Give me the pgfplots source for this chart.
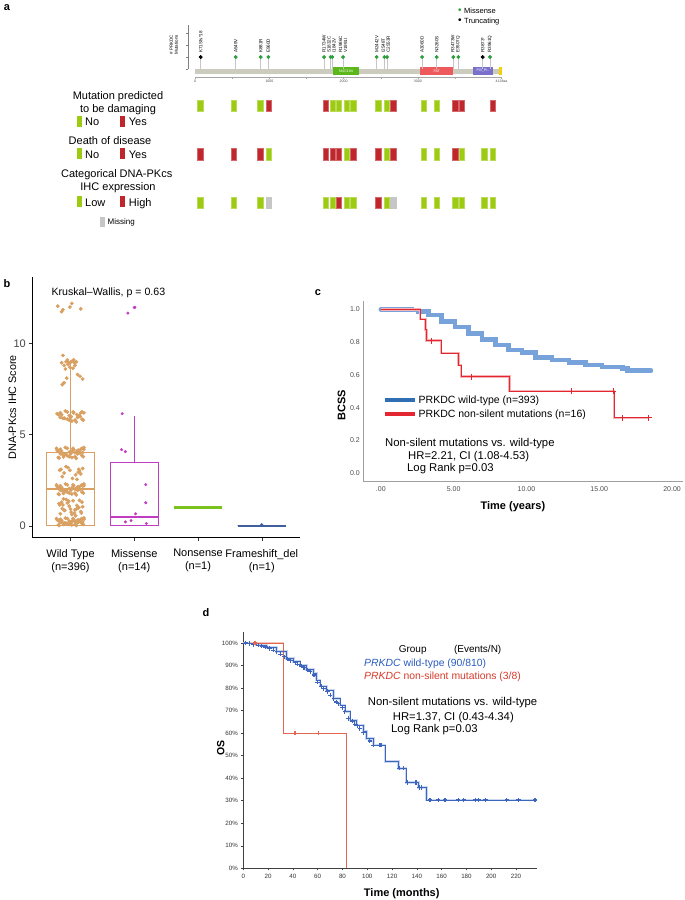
\documentclass[border=0pt]{standalone}
\usepackage{fontspec}
\setmainfont{Liberation Sans}
\usepackage{pgfplots}
\pgfplotsset{compat=1.18}
\usepgfplotslibrary{statistics}
\definecolor{agreen}{HTML}{9DCB12}
\definecolor{ared}{HTML}{C0272D}
\definecolor{agray}{HTML}{C6C6C6}
\definecolor{bb}{HTML}{CBCBBE}
\definecolor{dotg}{HTML}{2E9E3E}
\definecolor{nucg}{HTML}{5CB81A}
\definecolor{fatr}{HTML}{EE5A5C}
\definecolor{pip}{HTML}{7970CC}
\definecolor{fatc}{HTML}{F2D200}
\definecolor{wtc}{HTML}{D9A062}
\definecolor{msc}{HTML}{C13CC0}
\definecolor{nsc}{HTML}{7CC21E}
\definecolor{fsc}{HTML}{3F5F9E}
\definecolor{cblue}{HTML}{77A2DA}
\definecolor{cbluekey}{HTML}{2F6DB5}
\definecolor{cred}{HTML}{E3262F}
\definecolor{dblue}{HTML}{3E66BF}
\definecolor{dband}{HTML}{C9D8EF}
\definecolor{dred}{HTML}{E5664F}
\definecolor{dtxtblue}{HTML}{2A5CBF}
\definecolor{dtxtred}{HTML}{D63A2C}
\pgfplotsset{every axis/.append style={/pgf/number format/assume math mode=true}}
\begin{document}
\begin{tikzpicture}[x=1pt,y=1pt, lbl/.style={rotate=90, anchor=west, font=\fontsize{4.6}{5}\selectfont, inner sep=0.4pt, align=left}]
\path[use as bounding box] (0,0) rectangle (685,-900);

% panel labels
\node[anchor=center, font=\bfseries\fontsize{11}{13}\selectfont] at (7,-8) {a};
\node[anchor=center, font=\bfseries\fontsize{11}{13}\selectfont] at (7,-284) {b};
\node[anchor=center, font=\bfseries\fontsize{11}{13}\selectfont] at (318,-293) {c};
\node[anchor=center, font=\bfseries\fontsize{11}{13}\selectfont] at (206,-613) {d};

% ---------------- panel a: lollipop ----------------
\begin{axis}[at={(187.8pt,-69pt)}, anchor=south west, scale only axis,
  width=313.7pt, height=44pt, xmin=-100, xmax=4128, ymin=0, ymax=3.67,
  axis x line=none, axis y line*=left, ytick={0,1,2,3}, yticklabels={},
  tick align=outside, major tick length=1.5pt,
  y axis line style={gray, line width=0.3pt}, ytick style={gray, line width=0.3pt},
  ylabel={\# PRKDC\\Mutations}, ylabel style={font=\fontsize{4.5}{5}\selectfont, align=center, at={(axis description cs:-0.02,0.55)}, anchor=south},
  clip=false]
\addplot[fill=bb, draw=none] coordinates {(0,0) (4128,0) (4128,-0.42) (0,-0.42)} --cycle;
\addplot[fill=nucg, draw=none] coordinates {(1853,0.2) (2212,0.2) (2212,-0.52) (1853,-0.52)} --cycle;
\addplot[fill=fatr, draw=none] coordinates {(3030,0.2) (3479,0.2) (3479,-0.52) (3030,-0.52)} --cycle;
\addplot[fill=pip, draw=none] coordinates {(3748,0.2) (4009,0.2) (4009,-0.52) (3748,-0.52)} --cycle;
\addplot[fill=fatc, draw=none] coordinates {(4098,0.2) (4128,0.2) (4128,-0.52) (4098,-0.52)} --cycle;
\node[white, font=\fontsize{3.6}{4}\selectfont] at (axis cs:2032,-0.16) {NUC194};
\node[white, font=\fontsize{3.6}{4}\selectfont] at (axis cs:3255,-0.16) {FAT};
\node[white, font=\fontsize{3.6}{4}\selectfont] at (axis cs:3878,-0.16) {PI3\_PI..};
\addplot[ycomb, draw=gray!45, line width=0.6pt, mark=*, mark size=1.6pt, mark options={draw=dotg, fill=dotg}]
 coordinates {(546,1) (883,1) (985,1) (1736,1) (1826,1) (1848,1) (1992,1) (2446,1) (2549,1) (2585,1) (3057,1) (3255,1) (3478,1) (3546,1) (3973,1)};
\addplot[ycomb, draw=gray!45, line width=0.6pt, mark=*, mark size=1.6pt, mark options={draw=black, fill=black}]
 coordinates {(74,1) (3875,1)};
\node[lbl] at (axis cs:74,1.3) {K71Sfs*18};
\node[lbl] at (axis cs:546,1.3) {A549V};
\node[lbl] at (axis cs:883,1.3) {K881R};
\node[lbl] at (axis cs:985,1.3) {E960D};
\node[lbl] at (axis cs:1736,1.3) {R1734W};
\node[lbl] at (axis cs:1837,1.3) {S1832C\\I1842V};
\node[lbl] at (axis cs:1992,1.3) {R1986C\\V1991I};
\node[lbl] at (axis cs:2446,1.3) {M2442V};
\node[lbl] at (axis cs:2567,1.3) {I2548T\\C2553R};
\node[lbl] at (axis cs:3057,1.3) {A3060D};
\node[lbl] at (axis cs:3255,1.3) {N3260S};
\node[lbl] at (axis cs:3512,1.3) {R3473W\\E3507Q};
\node[lbl] at (axis cs:3875,1.3) {R3873*};
\node[lbl] at (axis cs:3973,1.3) {R3961Q};
\end{axis}

% protein scale
\begin{axis}[at={(195.2pt,-77pt)}, anchor=south west, scale only axis,
  width=306.3pt, height=1pt, xmin=0, xmax=4128, ymin=0, ymax=1,
  axis y line=none, axis x line*=bottom,
  xtick={0,1000,2000,3000,4128}, xticklabels={0,1000,2000,3000,4128aa},
  minor xtick={500,1500,2500,3500}, tick align=outside,
  major tick length=2pt, minor tick length=1.5pt,
  x axis line style={gray!70, line width=0.3pt}, xtick style={gray!70, line width=0.3pt},
  minor tick style={gray!70, line width=0.3pt},
  xticklabel style={font=\fontsize{3.5}{4}\selectfont, text=gray!60!black, inner sep=1pt}]
\addplot[draw=none] coordinates {(0,0)};
\end{axis}

\node[anchor=base west, font=\fontsize{7.5}{9}\selectfont, inner sep=0] at (458,-13) {\textcolor{dotg}{\fontsize{10}{9}\selectfont •}\hspace{2.5pt}Missense};
\node[anchor=base west, font=\fontsize{7.5}{9}\selectfont, inner sep=0] at (458,-23) {\textcolor{black}{\fontsize{10}{9}\selectfont •}\hspace{2.5pt}Truncating};

% ---------------- panel a: annotation grid ----------------
\begin{axis}[at={(195.2pt,-215pt)}, anchor=south west, scale only axis,
  width=306.3pt, height=120pt, xmin=0, xmax=4128, ymin=95, ymax=215, y dir=reverse,
  axis lines=none, clip=false]
\addplot[scatter, only marks, scatter src=explicit symbolic, mark size=5.8pt,
  mark options={xscale=0.46},
  scatter/classes={G={mark=square*, fill=agreen, draw=agreen!70!white},
                   R={mark=square*, fill=ared, draw=ared!70!white},
                   M={mark=square*, fill=agray, draw=agray}}]
 table[meta=c] {
x y c
69 105.7 G
523 105.7 G
877 105.7 G
991 105.7 R
1759 105.7 R
1853 105.7 G
1934 105.7 G
2042 105.7 G
2131 105.7 G
2464 105.7 G
2585 105.7 G
2670 105.7 R
3080 105.7 G
3255 105.7 G
3505 105.7 R
3592 105.7 R
4013 105.7 R
69 154.3 R
523 154.3 R
877 154.3 R
991 154.3 G
1759 154.3 R
1853 154.3 R
1934 154.3 R
2042 154.3 G
2131 154.3 R
2464 154.3 R
2585 154.3 G
2670 154.3 R
3080 154.3 G
3255 154.3 G
3505 154.3 R
3592 154.3 G
3896 154.3 G
4013 154.3 G
69 202.7 G
523 202.7 G
877 202.7 G
991 202.7 M
1759 202.7 G
1853 202.7 G
1934 202.7 R
2042 202.7 G
2131 202.7 G
2464 202.7 R
2585 202.7 G
2670 202.7 M
3080 202.7 G
3255 202.7 G
3505 202.7 G
3592 202.7 G
3896 202.7 G
4013 202.7 G
};
\end{axis}

% grid legend texts
\node[anchor=base, font=\fontsize{11}{13}\selectfont, inner sep=0] at (118,-99.5) {Mutation predicted};
\node[anchor=base, font=\fontsize{11}{13}\selectfont, inner sep=0] at (118,-112.8) {to be damaging};
\node[anchor=base west, font=\fontsize{11}{13}\selectfont, inner sep=0] at (76.5,-125.7) {\textcolor{agreen}{\rule[-1pt]{5pt}{11pt}}\hspace{3.5pt}No};
\node[anchor=base west, font=\fontsize{11}{13}\selectfont, inner sep=0] at (119.5,-125.7) {\textcolor{ared}{\rule[-1pt]{5pt}{11pt}}\hspace{4.2pt}Yes};
\node[anchor=base, font=\fontsize{11}{13}\selectfont, inner sep=0] at (110,-144.5) {Death of disease};
\node[anchor=base west, font=\fontsize{11}{13}\selectfont, inner sep=0] at (76.5,-158) {\textcolor{agreen}{\rule[-1pt]{5pt}{11pt}}\hspace{3.5pt}No};
\node[anchor=base west, font=\fontsize{11}{13}\selectfont, inner sep=0] at (119.5,-158) {\textcolor{ared}{\rule[-1pt]{5pt}{11pt}}\hspace{4.2pt}Yes};
\node[anchor=base, font=\fontsize{11}{13}\selectfont, inner sep=0] at (116.7,-177.5) {Categorical DNA-PKcs};
\node[anchor=base, font=\fontsize{11}{13}\selectfont, inner sep=0] at (118,-190.8) {IHC expression};
\node[anchor=base west, font=\fontsize{11}{13}\selectfont, inner sep=0] at (76.5,-206) {\textcolor{agreen}{\rule[-1pt]{5pt}{11pt}}\hspace{3.5pt}Low};
\node[anchor=base west, font=\fontsize{11}{13}\selectfont, inner sep=0] at (119.5,-206) {\textcolor{ared}{\rule[-1pt]{5pt}{11pt}}\hspace{4.2pt}High};
\node[anchor=base west, font=\fontsize{8}{10}\selectfont, inner sep=0] at (99.5,-224.5) {\textcolor{agray}{\rule[-2pt]{5pt}{10pt}}\hspace{3pt}Missing};

% ---------------- panel b ----------------
\begin{axis}[at={(32.3pt,-537.7pt)}, anchor=south west, scale only axis,
  width=267.7pt, height=260.7pt, xmin=0.4, xmax=4.6, ymin=-0.65, ymax=13.65,
  axis x line*=bottom, axis y line*=left, axis line style={black, line width=0.7pt},
  xtick={1,2,3,4}, xticklabels={{Wild Type\\(n=396)},{Missense\\(n=14)},{Nonsense\\(n=1)},{Frameshift\_del\\(n=1)}},
  ytick={0,5,10}, tick align=outside, major tick length=3pt,
  tick style={gray!40!black, line width=0.5pt},
  xticklabel style={align=center, font=\fontsize{11}{13}\selectfont, text=black, yshift=-5pt},
  yticklabel style={font=\fontsize{11}{13}\selectfont, text=gray!55!black},
  ylabel={DNA-PKcs IHC Score}, ylabel style={font=\fontsize{10.8}{12}\selectfont, at={(axis description cs:-0.074,0.5)}, anchor=center},
  boxplot/draw direction=y,
  clip=false]
\addplot[draw=wtc, line width=0.9pt, boxplot prepared={median=2, lower quartile=0, upper quartile=4, lower whisker=0, upper whisker=9, draw position=1, box extend=0.76, whisker extend=0}, boxplot/every median/.style={line width=2.2pt}] coordinates {};
\addplot[only marks, mark=*, mark size=1.7pt, color=wtc] coordinates {
(0.81,0.29)(1.07,0.08)(0.95,0.40)(1.15,0.22)(0.88,0.15)(1.21,0.36)(1.02,0.05)(0.79,0.33)(1.11,0.18)(0.92,0.43)
(1.18,0.12)(0.98,0.26)(1.09,0.02)(0.84,0.36)(1.13,0.22)(0.90,0.15)(1.04,0.40)(1.20,0.08)(0.86,0.29)(1.00,0.19)
(0.84,0.19)(1.10,0.29)(0.98,0.08)(1.18,0.40)(0.91,0.15)(1.19,0.22)(1.05,0.36)(0.82,0.02)(1.14,0.26)(0.95,0.12)
(1.21,0.43)(1.01,0.18)(1.12,0.33)(0.81,0.05)(1.16,0.36)(0.93,0.15)(1.07,0.22)(0.78,0.40)(0.89,0.08)(1.03,0.29)
(0.83,1.15)(1.06,0.70)(0.96,1.38)(1.13,1.00)(0.90,0.85)(1.18,1.30)(1.02,0.62)(0.82,1.22)(1.09,0.92)(0.93,1.45)
(1.16,0.78)(0.98,1.08)(1.08,0.55)(0.86,1.30)(1.12,1.00)(0.91,0.85)(1.04,1.38)(1.17,0.70)(0.88,1.15)(1.00,0.92)
(0.95,1.25)(1.10,1.12)(0.87,0.95)(1.14,1.40)(1.01,0.75)(0.84,0.66)(1.19,1.05)(0.97,1.33)(1.07,0.88)(0.89,1.48)
(0.81,2.10)(1.07,1.80)(0.95,2.25)(1.15,2.00)(0.88,1.90)(1.21,2.20)(1.02,1.75)(0.79,2.15)(1.11,1.95)(0.92,2.30)
(1.18,1.85)(0.98,2.05)(1.09,1.70)(0.84,2.20)(1.13,2.00)(0.90,1.90)(1.04,2.25)(1.20,1.80)(0.86,2.10)(1.00,1.95)
(0.84,1.95)(1.10,2.10)(0.98,1.80)(1.18,2.25)(0.91,1.90)(1.19,2.02)(1.05,2.20)(0.82,1.72)(1.14,2.05)(0.95,1.85)
(1.21,2.30)(1.01,2.00)(1.12,2.15)(0.81,1.75)(1.16,2.20)(0.93,1.93)(1.07,2.02)(0.78,2.25)(0.89,1.78)(1.03,2.12)
(0.85,3.10)(1.08,2.80)(0.96,3.20)(1.14,3.00)(0.90,2.90)(1.19,3.15)(1.03,2.60)(0.83,3.05)(1.12,2.95)(0.93,3.25)
(1.16,2.85)(0.99,3.05)(1.10,2.55)(0.87,2.70)(1.13,3.10)
(0.81,4.10)(1.07,3.80)(0.95,4.25)(1.15,4.00)(0.88,3.90)(1.21,4.20)(1.02,3.75)(0.79,4.15)(1.11,3.95)(0.92,4.30)
(1.18,3.85)(0.98,4.05)(1.09,3.70)(0.84,4.20)(1.13,4.00)(0.90,3.90)(1.04,4.25)(1.20,3.80)(0.86,4.10)(1.00,3.95)
(0.84,3.95)(1.10,4.10)(0.98,3.80)(1.18,4.25)(0.91,3.90)(1.19,4.02)(1.05,4.20)(0.82,3.72)(1.14,4.05)(0.95,3.85)
(1.21,4.30)(1.01,4.00)(1.12,4.15)(0.81,3.75)(1.16,4.20)(0.93,3.93)(1.07,4.02)(0.78,4.25)(0.89,3.78)(1.03,4.12)
(0.81,6.10)(1.07,5.80)(0.95,6.25)(1.15,6.00)(0.88,5.90)(1.21,6.20)(1.02,5.75)(0.79,6.15)(1.11,5.95)(0.92,6.30)
(1.18,5.85)(0.98,6.05)(1.09,5.70)(0.84,6.20)(1.13,6.00)(0.90,5.90)(1.04,6.25)(1.20,5.80)(0.86,6.10)(1.00,5.95)
(0.84,5.95)(1.10,6.10)(0.98,5.80)(1.18,6.25)(0.91,5.90)(1.05,6.20)(1.14,6.05)(0.95,5.85)(1.01,6.00)(1.16,6.20)
(0.88,9.35)(0.93,9.00)(0.96,8.85)(1.03,9.05)(1.06,8.95)(0.90,8.80)(0.99,8.70)(1.01,9.00)(0.95,9.10)(1.07,8.80)
(0.92,8.60)(1.04,8.65)(0.97,8.95)(1.09,9.00)(0.86,8.95)(1.05,9.10)
(1.11,8.30)(1.19,8.05)(1.15,8.20)(0.87,7.75)(0.90,7.85)(0.94,8.10)
(0.80,12.05)(0.86,11.75)(0.88,11.85)(0.99,12.0)(1.02,12.2)(1.16,11.9)
};
\addplot[draw=msc, line width=0.9pt, boxplot prepared={median=0.5, lower quartile=0, upper quartile=3.5, lower whisker=0, upper whisker=6, draw position=2, box extend=0.76, whisker extend=0}, boxplot/every median/.style={line width=2.2pt}] coordinates {};
\addplot[only marks, mark=*, mark size=1.3pt, color=msc] coordinates {
(1.90,11.67)(2.00,11.98)(2.01,11.98)(1.81,6.15)(1.80,4.18)(1.86,4.07)(2.18,2.26)(2.18,1.27)(2.02,0.66)(1.86,0.22)(1.95,0.29)(2.19,0.13)};
\addplot[draw=nsc, line width=0.9pt, boxplot prepared={median=1, lower quartile=1, upper quartile=1, lower whisker=1, upper whisker=1, draw position=3, box extend=0.76, whisker extend=0}, boxplot/every median/.style={line width=2.4pt}] coordinates {};
\addplot[draw=fsc, line width=0.9pt, boxplot prepared={median=0, lower quartile=0, upper quartile=0, lower whisker=0, upper whisker=0, draw position=4, box extend=0.76, whisker extend=0}, boxplot/every median/.style={line width=2.4pt}] coordinates {};
\addplot[only marks, mark=*, mark size=1.3pt, color=fsc] coordinates {(4.0,0.06)};
\addplot[only marks, mark=*, mark size=1.0pt, color=nsc] coordinates {(3.0,1.0)};
\node[anchor=base west, font=\fontsize{10.6}{12}\selectfont, inner sep=0] at (axis cs:0.70,12.62) {Kruskal–Wallis, p = 0.63};
\end{axis}

% ---------------- panel c ----------------
\begin{axis}[at={(363.3pt,-481pt)}, anchor=south west, scale only axis,
  width=319.7pt, height=180.3pt, xmin=-1.2, xmax=20.75, ymin=-0.047, ymax=1.053,
  axis x line*=bottom, axis y line*=left, axis line style={gray!75, line width=0.8pt},
  xtick={0,5,10,15,20}, xticklabels={.00,5.00,10.00,15.00,20.00},
  ytick={0,0.2,0.4,0.6,0.8,1}, yticklabels={0.0,0.2,0.4,0.6,0.8,1.0},
  major tick length=0pt,
  ticklabel style={font=\fontsize{7}{8}\selectfont, text=gray!60!black},
  xticklabel style={yshift=-2pt},
  xlabel={\textbf{Time (years)}}, xlabel style={font=\fontsize{11}{13}\selectfont, at={(axis description cs:0.468,-0.1425)}, anchor=center},
  ylabel={\textbf{BCSS}}, ylabel style={font=\fontsize{11}{13}\selectfont, at={(axis description cs:-0.0676,0.4215)}, anchor=center},
  legend style={at={(axis description cs:0.06,0.485)}, anchor=north west, draw=none, fill=none, font=\fontsize{10.5}{12}\selectfont, row sep=1pt, inner sep=0pt},
  legend cell align=left,
  legend image code/.code={\draw[#1] (0pt,0pt) -- (30pt,0pt);},
  clip=false]
\addplot[const plot, cblue, line width=4.5pt, line cap=round, forget plot] coordinates {
(0,1.0)(2.1,0.996)(2.57,0.986)(3.26,0.965)(4.18,0.925)(5.1,0.894)(6.02,0.854)(6.94,0.817)(7.86,0.782)(8.78,0.752)(9.7,0.736)(10.62,0.707)(11.77,0.691)(12.92,0.675)(14.07,0.661)(15.2,0.65)(16.6,0.64)(16.94,0.626)(18.55,0.626)};
\addplot[const plot, cred!35, line width=2.4pt, forget plot] coordinates {
(0,1)(2.69,0.94)(3.08,0.875)(3.15,0.81)(4.14,0.733)(5.33,0.66)(5.52,0.59)(8.85,0.502)(16.02,0.339)(18.44,0.339)};
\addplot[const plot, cred, line width=0.9pt, forget plot] coordinates {
(0,1)(2.69,0.94)(3.08,0.875)(3.15,0.81)(4.14,0.733)(5.33,0.66)(5.52,0.59)(8.85,0.502)(16.02,0.339)(18.44,0.339)};
\addplot[only marks, mark=+, mark size=3pt, cred, line width=0.7pt, forget plot] coordinates {
(3.45,0.81)(6.25,0.59)(13.06,0.502)(15.95,0.502)(16.6,0.339)(18.39,0.339)};
\addlegendimage{cbluekey, line width=4pt}
\addlegendentry{PRKDC wild-type (n=393)}
\addlegendimage{cred, line width=4pt}
\addlegendentry{PRKDC non-silent mutations (n=16)}
\end{axis}
\node[anchor=base west, font=\fontsize{11.3}{13}\selectfont, inner sep=0] at (385,-446.5) {Non-silent mutations vs. wild-type};
\node[anchor=base west, font=\fontsize{11.3}{13}\selectfont, inner sep=0] at (408,-459.5) {HR=2.21, CI (1.08-4.53)};
\node[anchor=base west, font=\fontsize{11.3}{13}\selectfont, inner sep=0] at (407,-471.5) {Log Rank p=0.03};

% ---------------- panel d ----------------
\begin{axis}[at={(243.3pt,-868.3pt)}, anchor=south west, scale only axis,
  width=293.4pt, height=236.6pt, xmin=0, xmax=236.7, ymin=0, ymax=105,
  axis x line*=bottom, axis y line*=left, axis line style={gray!50!black, line width=0.6pt},
  xtick={0,20,...,220}, ytick={0,10,...,100},
  yticklabel={\pgfmathprintnumber{\tick}\%},
  tick align=outside, major tick length=2pt, tick style={gray!50!black, line width=0.5pt},
  ticklabel style={font=\fontsize{6.2}{7}\selectfont, text=black!80},
  xlabel={\textbf{Time (months)}}, xlabel style={font=\fontsize{11}{13}\selectfont, at={(axis description cs:0.54,-0.1086)}, anchor=center},
  ylabel={\textbf{OS}}, ylabel style={font=\fontsize{10.5}{13}\selectfont, at={(axis description cs:-0.077,0.508)}, anchor=center},
  clip=false]
\addplot[const plot, dband, line width=2.6pt] coordinates {
(0,100)(10.8,99.1)(18.8,98.1)(26.9,96.2)(35,93.2)(40.3,91.7)(45.7,90.2)(51.1,88.3)(56.5,86.5)(59.1,83.6)(61.9,80.9)(67.2,79.1)(72.6,75.4)(78,72.5)(82,69.5)(86,65.8)(91.5,63.6)(96.8,60.7)(99.5,57.7)(104.9,54.7)(114.3,47.3)(125,44.4)(131.3,38)(141.2,35.8)(148,30.3)(236.7,30.3)};
\addplot[const plot, dred!40, line width=2.2pt] coordinates {(0,100)(32.5,100)};
\addplot[const plot, dred, line width=0.8pt] coordinates {(0,100)(32.5,60)(83.4,0)(83.4,0)};
\addplot[const plot, dblue, line width=0.6pt] coordinates {
(0,100)(10.8,99.1)(18.8,98.1)(26.9,96.2)(35,93.2)(40.3,91.7)(45.7,90.2)(51.1,88.3)(56.5,86.5)(59.1,83.6)(61.9,80.9)(67.2,79.1)(72.6,75.4)(78,72.5)(82,69.5)(86,65.8)(91.5,63.6)(96.8,60.7)(99.5,57.7)(104.9,54.7)(114.3,47.3)(125,44.4)(131.3,38)(141.2,35.8)(148,30.3)(236.7,30.3)};
\addplot[only marks, mark=+, mark size=2.2pt, dblue, line width=1.1pt] coordinates {
(2,100)(5,99.7)(8,99.4)(12,99)(15,98.6)(18,98.2)(21,97.6)(24,96.8)(27,96.1)(30,95)(33,93.8)(36,92.8)(38,92.2)(42,91.2)(44,90.6)(47,89.8)(49,89)(52,88)(54,87.2)(57,85.8)(60,82.6)(63,80.6)(65,79.8)(68,78.5)(70,76.8)(73,75.2)(75,73.8)(77,73)(80,71.2)(82,69.5)(85,66.5)(88,65.3)(90,64)(92,63.2)(94,62)(97,60.2)(102,56.5)(105,54.7)(110.3,54.7)(111.6,54.7)(125.9,44.4)(129.6,44.4)(132.3,38)(139.3,38)(142,35.8)(143.9,35.8)(150.6,30.3)(157.3,30.3)(162.7,30.3)(173.4,30.3)(178,30.3)(187.2,30.3)(189.9,30.3)(195.3,30.3)(212.5,30.3)(221.9,30.3)(235.3,30.3)};
\addplot[only marks, mark=+, mark size=2.2pt, dred, line width=1.1pt] coordinates {(9.4,100)(41.7,60)(60.5,60)};
\end{axis}
\node[anchor=base, font=\fontsize{10}{12}\selectfont, inner sep=0] at (412.7,-652.5) {Group};
\node[anchor=base, font=\fontsize{10}{12}\selectfont, inner sep=0] at (477.7,-652.5) {(Events/N)};
\node[anchor=base west, font=\fontsize{10.4}{12}\selectfont, inner sep=0, text=dtxtblue] at (364,-666) {\textit{PRKDC} wild-type (90/810)};
\node[anchor=base west, font=\fontsize{10.4}{12}\selectfont, inner sep=0, text=dtxtred] at (364,-679) {\textit{PRKDC} non-silent mutations (3/8)};
\node[anchor=base west, font=\fontsize{11.3}{13}\selectfont, inner sep=0] at (367.7,-705.5) {Non-silent mutations vs. wild-type};
\node[anchor=base west, font=\fontsize{11.3}{13}\selectfont, inner sep=0] at (392.7,-720) {HR=1.37, CI (0.43-4.34)};
\node[anchor=base west, font=\fontsize{11.3}{13}\selectfont, inner sep=0] at (391,-732) {Log Rank p=0.03};
\end{tikzpicture}
\end{document}
